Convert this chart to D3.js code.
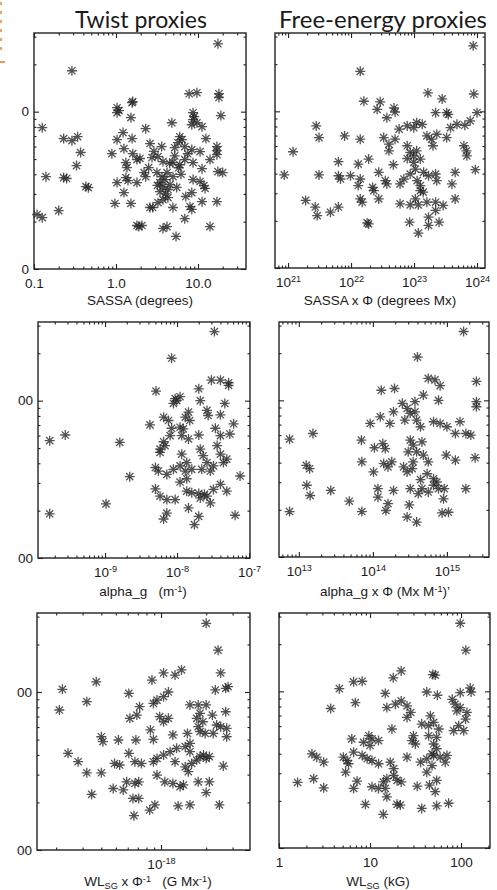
<!DOCTYPE html>
<html>
<head>
<meta charset="utf-8">
<script src="https://cdn.jsdelivr.net/npm/d3@7/dist/d3.min.js"></script>
<style>
  body { margin: 0; background: #fff; }
  text { font-family: "Liberation Sans", Arial, sans-serif; fill: #1a1a1a; }
</style>
</head>
<body>
<svg id="chart" width="497" height="890"></svg>
<script>
/* global d3 */

// column headers
const headers = ['Twist proxies', 'Free-energy proxies'];

// y ticks shared by all panels (left column labels are clipped by the page edge)
const yMajor = [100, 1000];

// x tick labels per panel
const sassaTicks = [0.1, 1, 10];
const sassaFluxTicks = [1e21, 1e22, 1e23, 1e24];
const alphaTicks = [1e-9, 1e-8, 1e-7];
const alphaFluxTicks = [1e13, 1e14, 1e15];
const wlsgPhiTicks = [1e-18];
const wlsgTicks = [1, 10, 100];

// points: [x, y]
const sassaPts = [
  [17.5,2700],[0.29,1820],[7.8,1300],[9.7,1320],[18,1300],[18,1230],[1.57,1140],[1.6,1160],[1.03,1060],[1.09,1015],[1.03,985],
  [8.7,985],[9.0,930],[8.7,890],[9.7,850],[8.4,826],[11.2,803],[19,944],[0.126,791],[1.52,916],[4.8,850],[2.3,780],[1.22,736],
  [0.34,693],[0.23,674],[0.29,654],[1.03,664],[1.57,674],[6.0,693],[5.7,635],[6.4,664],[6.9,600],[2.6,627],[12.5,674],[3.6,600],
  [17,600],[17,565],[17,533],[8.4,574],[10.6,557],[5.2,590],[1.25,582],[0.37,550],[0.89,541],[1.6,541],[1.96,504],[3.25,518],[3.74,482],
  [5.2,524],[6.9,496],[4.95,474],[6.0,460],[0.33,454],[1.32,474],[1.36,441],[8.7,474],[11.2,434],[14,496],[1.8,496],[2.75,511],[2.5,441],
  [0.14,386],[0.23,381],[0.25,376],[1.03,354],[1.32,381],[1.4,365],[2.2,410],[2.3,386],[3.16,410],[1.8,354],
  [3.44,354],[3.96,370],[3.74,334],[4.3,320],[3.44,310],[4.56,344],[4.95,386],[4.19,410],[3.64,386],
  [8.7,370],[10.6,360],[11.8,339],[12.2,325],[17.5,416],[20,410],[0.43,334],[0.46,329],[1.25,306],[0.97,261],[1.52,261],[7.1,289],[8.4,306],
  [11.2,268],[17,268],[2.6,246],[2.8,246],[3.25,264],[3.74,276],[4.3,284],[4.95,246],[8.0,249],[8.4,239],[6.9,209],[0.109,222],[0.126,212],
  [0.2,235],[1.8,189],[2.07,189],[1.9,186],[14,186],[3.74,181],[4.19,186],[5.4,161],
  [5.5,330],[4.0,300],[3.2,340],[6.2,400],[5.8,440],[4.5,470],[2.9,560],[7.5,540]
];

const sassaFluxPts = [
  [8.7e23,2620],[1.4e22,1800],[1.66e23,1310],[2.8e23,1200],[8.9e23,1290],[1.6e22,1160],[2.9e22,1150],[2.6e22,1030],[4.8e22,1050],[5.0e22,990],[3.7e22,910],
  [2.2e23,980],[3.3e23,980],[3.5e23,955],[1e24,980],[7.8e23,870],[6.4e23,815],[2.8e21,807],[3.1e21,680],[7.9e21,697],[1.4e22,664],
  [5.8e22,770],[7.8e22,807],[1.1e23,847],[1.35e23,826],[9.9e22,787],[3.8e23,787],[4.8e23,826],
  [3.3e22,680],[4e22,617],[4e22,560],[5e22,664],[1.6e23,697],[1.9e23,664],[2.3e23,714],[2.0e23,603],[3.3e23,680],
  [7.8e22,603],[8.7e22,547],[9.9e22,520],[7.8e22,500],[1.1e23,560],[1.26e23,496],[9.9e22,472],
  [6.2e23,603],[6.8e23,560],[6.9e23,520],[1.2e21,552],[6.3e21,477],[1.3e22,460],[1.9e22,496],[4.7e22,456],
  [8.7e20,393],[3.1e21,393],[6.3e21,388],[6.8e21,370],[9.8e21,388],[1.4e22,370],[1.3e22,336],
  [2.75e22,408],[3.5e22,361],[3.7e22,344],[6e22,344],[6.9e22,370],[8.7e22,398],[1.12e23,361],[1.26e23,336],[1.42e23,408],[1.7e23,388],[1.05e23,428],
  [2.2e23,398],[2.3e23,361],[4e23,344],[4.5e23,408],[9.4e23,424],[2.2e22,327],[2.3e22,312],
  [1.26e23,312],[1.4e23,305],[1.05e23,276],[1.6e23,263],[1.9e21,270],[2.7e21,245],[2.9e21,216],[4.7e21,227],[6.3e21,245],
  [1.4e22,276],[1.5e22,263],[2.75e22,276],[6e22,257],[8.7e22,253],[1.17e23,253],[2.2e23,263],[2.9e23,251],[4.5e23,276],
  [2.2e23,233],[1.7e23,211],[1.7e23,187],[2.5e23,196],[1.8e22,194],[1.9e22,191],[8.5e22,196],[1.17e23,167]
];

const alphaPts = [
  [3.3e-8,2750],[8.4e-9,1860],[3.0e-8,1350],[4.0e-8,1350],[5.2e-8,1300],[5.2e-8,1250],[2.0e-8,1190],[5.1e-9,1150],
  [9.4e-9,1030],[1.1e-8,1060],[8.9e-9,960],[9.9e-9,1000],[2.1e-8,1000],[4.6e-8,960],[6.5e-9,785],[7.6e-9,748],[4.2e-9,702],
  [1.44e-8,845],[1.3e-8,785],[1.5e-8,748],[2.6e-8,867],[2.7e-8,805],[4e-8,813],[6.1e-8,713],
  [8.4e-9,668],[1.1e-8,678],[1.22e-8,662],[3.4e-8,668],[5.4e-8,614],[4.0e-8,600],[2.0e-8,605],
  [1.7e-10,557],[2.8e-10,605],[1.6e-9,543],[6.5e-9,548],[5.8e-9,492],[5.8e-9,469],[6.8e-9,518],
  [1.16e-8,457],[1.36e-8,404],[1.6e-8,366],[1.3e-8,357],[1.1e-8,385],[2.1e-8,492],[2.3e-8,447],[2.6e-8,404],
  [3.6e-8,518],[4e-8,457],[4.4e-8,404],[4.9e-8,425],[5e-9,376],[5.5e-9,357],[7.2e-9,340],[8.9e-9,366],[2.2e-9,329],
  [1.1e-8,304],[1.36e-8,319],[2.2e-8,366],[2.9e-8,357],[3.2e-8,385],[7.5e-8,332],[4e-8,294],[4.9e-8,266],[3.2e-8,273],
  [5e-9,275],[5.8e-9,247],[7.2e-9,235],[9.4e-9,235],[2e-8,257],[2.6e-8,247],[2.1e-8,241],[2.4e-8,254],[1.36e-8,266],[1.6e-8,260],
  [2.9e-8,224],[1.03e-9,221],[1.7e-10,191],[6.4e-8,187],[1.44e-8,208],[6.5e-9,177],[7.2e-9,193],[2e-8,184],[1.74e-8,163],
  [1.16e-8,600],[1.44e-8,571],[8e-9,600]
];

const alphaFluxPts = [
  [1.68e15,2750],[4.0e14,1890],[5.6e14,1380],[6.9e14,1350],[8.1e14,1240],[2.5e15,1320],[1.3e14,1160],[1.96e14,1190],
  [4.8e14,1080],[3.7e14,980],[2.9e14,889],[2.5e14,957],[7.7e14,1000],[2.5e15,980],[2.5e15,910],[1.26e14,785],[9.2e13,712],
  [1.7e14,712],[1.9e14,845],[2.7e14,748],[3.2e14,826],[3.7e14,845],[3.9e14,748],[4.4e14,678],[6.6e14,730],[8.1e14,712],[1.0e15,678],
  [1.5e15,730],[1.3e15,614],[1.8e15,614],[2.1e15,600],[7.5e12,565],[1.55e13,614],[7e13,557],[1.05e14,498],[1.36e14,530],[1.47e14,492],
  [3.2e14,557],[3.5e14,518],[3.0e14,469],[3.9e14,469],[4.6e14,543],[4.8e14,447],[5.6e14,405],[9.8e14,447],[1.3e15,415],[2.4e15,430],
  [1.26e13,385],[1.4e13,366],[7.1e13,405],[1.02e14,349],[1.4e14,395],[1.6e14,376],[1.8e14,405],[2.6e14,376],[2.9e14,349],[3.4e14,366],[3.5e14,405],
  [6.6e14,316],[7.3e14,301],[6.6e14,287],[4.4e14,312],[5.4e14,340],[1.28e13,287],[1.42e13,247],[2.7e13,266],[4.8e13,227],[1.17e14,273],[1.17e14,241],
  [1.9e14,266],[3.2e14,273],[4.1e14,254],[4.6e14,273],[5.6e14,260],[7.7e14,273],[9.2e14,273],[9.0e14,235],[1.8e15,273],
  [1.6e14,219],[1.5e14,198],[7.5e12,195],[7.1e13,195],[3.1e14,215],[2.9e14,180],[3.9e14,167],[8.6e14,191],[1.05e15,193]
];

const wlsgPhiPts = [
  [2.0e-18,2720],[2.4e-18,1840],[1.04e-18,1320],[1.24e-18,1280],[1.37e-18,1380],[8.7e-19,1190],[2.5e-18,1320],[2.2e-19,1040],[3.7e-19,1160],[6.1e-19,980],
  [2.1e-19,769],[3.2e-19,869],[1.12e-18,1000],[1.04e-18,934],[9.4e-19,889],[8.9e-19,847],[1.56e-18,828],[2.3e-18,1030],[2.7e-18,1055],[2.8e-18,1080],
  [2.0e-18,828],[2.2e-18,714],[2.7e-18,750],[2.35e-18,618],[1.77e-18,828],[1.82e-18,733],[1.73e-18,681],[1.9e-18,648],[1.77e-18,603],
  [7.2e-19,807],[6.9e-19,714],[6.2e-19,681],[9.8e-19,698],[1.04e-18,648],[1.12e-18,681],[8.5e-19,575],[1.2e-18,535],
  [1.5e-18,547],[1.56e-18,473],[1.45e-18,451],[1.56e-18,419],[4.0e-19,521],[4.1e-19,485],[5.2e-19,497],[6.8e-19,497],[8.9e-19,501],
  [1.82e-18,561],[1.97e-18,547],[2.23e-18,547],[2.5e-18,603],[2.74e-18,521],[2.74e-18,589],[6.1e-19,409],[2.4e-19,409],[2.8e-19,362],
  [4.9e-19,353],[5.3e-19,345],[6.7e-19,362],[7.4e-19,353],[8.9e-19,362],[9.4e-19,380],[1.04e-18,399],[1.15e-18,419],[1.27e-18,440],[1.24e-18,362],
  [1.45e-18,336],[1.52e-18,313],[1.6e-18,353],[1.73e-18,371],[1.82e-18,390],[1.92e-18,399],[2.0e-18,380],[2.1e-18,390],[2.6e-18,340],
  [3.2e-19,308],[4.0e-19,308],[4.8e-19,245],[5.6e-19,240],[5.9e-19,270],[6.7e-19,264],[7.1e-19,270],
  [9.4e-19,298],[1.06e-18,270],[1.2e-18,264],[1.34e-18,252],[1.41e-18,258],[1.77e-18,270],[2.1e-18,270],[2.0e-18,231],[3.45e-19,225],
  [6.5e-19,212],[7.1e-19,212],[8.4e-19,179],[9.1e-19,193],[1.3e-18,190],[1.56e-18,193],[2.45e-18,193],[6.6e-19,165]
];

const wlsgPts = [
  [98,2720],[113,1830],[22,1350],[18,1220],[49,1280],[52,1270],[6.6,1150],[8.2,1160],[4.6,1040],[14.7,970],[42,990],[55,944],
  [98,980],[126,1050],[129,990],[6.9,847],[3.7,777],[15.3,788],[19,828],[22,869],[25.5,807],[28,733],[25.5,681],
  [80,889],[86,828],[98,788],[90,751],[116,733],[112,665],[46,698],[50,634],[44,604],[57,575],[37,618],[17.4,575],
  [83,561],[107,561],[94,604],[30,521],[31.5,461],[29,485],[6.3,497],[8.5,473],[9.7,521],[10.5,497],[12.4,485],[10,451],
  [44,521],[54,509],[50,461],[54,430],[48,399],[2.3,399],[2.6,380],[3.1,353],[5.1,380],[5.6,362],[5.8,345],[6.6,409],
  [8.2,390],[9.3,371],[10.5,362],[12.4,345],[16.7,353],[18.2,321],[25.5,380],[36,353],[42,371],[50,390],[59,380],[70,390],[67,353],
  [5.4,305],[42,305],[48,336],[2.4,277],[1.6,262],[3.1,242],[7.2,267],[6.6,240],[10.5,246],[12.4,240],
  [14,264],[15.3,277],[18.2,291],[19.8,270],[22,264],[14.7,240],[15.3,212],[33,248],[45,252],[54,270],[52,229],
  [8.9,190],[19.8,190],[21.5,188],[14,164],[37,179],[54,186],[73,193]
];

const svg = d3.select('#chart');

const fixed = d => d.toFixed(1);
const plain = d => String(d);
const power = 'pow';

// box = [left, top, right, bottom]
const panels = [
  { pts: sassaPts, box: [34, 33, 246, 269], xdom: [0.1, 38.5], ticks: sassaTicks, fmt: fixed, ylab: 1,
    title: [['SASSA (degrees)']], tx: 140, ty: 305 },
  { pts: sassaFluxPts, box: [275, 33, 485, 268], xdom: [6.2e20, 1.34e24], ticks: sassaFluxTicks, fmt: power, ylab: 0,
    title: [['SASSA x \u03A6 (degrees Mx)']], tx: 380, ty: 305 },
  { pts: alphaPts, box: [38, 322, 250, 558], xdom: [1.17e-10, 1.03e-7], ticks: alphaTicks, fmt: power, ylab: 2,
    title: [['alpha_g   (m'], ['-1', 'sup'], [')']], tx: 143, ty: 596 },
  { pts: alphaFluxPts, box: [279, 322, 489, 557], xdom: [5.4e12, 3.7e15], ticks: alphaFluxTicks, fmt: power, ylab: 0,
    title: [['alpha_g x \u03A6 (Mx M'], ['-1', 'sup'], [')\u2019']], tx: 385, ty: 596 },
  { pts: wlsgPhiPts, box: [37, 613, 250, 850], xdom: [1.49e-19, 3.92e-18], ticks: wlsgPhiTicks, fmt: power, ylab: 2,
    title: [['WL'], ['SG', 'sub'], [' x \u03A6'], ['-1', 'sup'], ['   (G Mx'], ['-1', 'sup'], [')']], tx: 148, ty: 886 },
  { pts: wlsgPts, box: [279, 613, 490, 848], xdom: [1, 208], ticks: wlsgTicks, fmt: plain, ylab: 0,
    title: [['WL'], ['SG', 'sub'], [' (kG)']], tx: 378, ty: 886 }
];

const isDecade = v => Math.abs(Math.log10(v) - Math.round(Math.log10(v))) < 1e-6;

// asterisk symbol like IDL psym=2
const r = 5, q = r * 0.72;
const star = `M${-r},0H${r}M0,${-r}V${r}M${-q},${-q}L${q},${q}M${-q},${q}L${q},${-q}`;

function superLabel(sel, d) {
  const e = Math.round(Math.log10(d));
  sel.text(null);
  sel.append('tspan').text('10');
  sel.append('tspan').attr('dy', '-0.5em').attr('font-size', '68%').text(e);
}

const shift = { sup: 0.4, sub: -0.3 };

panels.forEach(p => {
  const [x0, y0, x1, y1] = p.box;
  const x = d3.scaleLog().domain(p.xdom).range([x0, x1]);
  const y = d3.scaleLog().domain([100, Math.pow(10, 3.5)]).range([y1, y0]);

  const xMinor = x.ticks().filter(v => !isDecade(v));
  const yMinor = y.ticks().filter(v => !isDecade(v));
  const xMajor = x.ticks().filter(isDecade);

  const g = svg.append('g');

  // points
  g.append('g').selectAll('path').data(p.pts).enter().append('path')
    .attr('d', star)
    .attr('transform', d => `translate(${x(d[0])},${y(d[1])})`)
    .attr('fill', 'none')
    .attr('stroke', '#222')
    .attr('stroke-width', 1.3)
    .attr('stroke-opacity', 0.78);

  // ticks on all four sides, pointing inward
  const axes = [[d3.axisBottom(x), y1], [d3.axisTop(x), y0]];
  axes.forEach(([ax, pos], i) => {
    const major = g.append('g').attr('transform', `translate(0,${pos})`)
      .call(ax.tickValues(i === 0 ? p.ticks : xMajor).tickSize(-5).tickPadding(9)
        .tickFormat(i === 0 && p.fmt !== power ? p.fmt : () => ''));
    if (i === 0 && p.fmt === power) {
      major.selectAll('.tick text').each(function(d) { superLabel(d3.select(this), d); });
    }
    g.append('g').attr('transform', `translate(0,${pos})`)
      .call(ax.tickValues(xMinor).tickSize(-2.5).tickFormat(() => ''));
  });

  const yAxes = [[d3.axisLeft(y), x0], [d3.axisRight(y), x1]];
  yAxes.forEach(([ax, pos], i) => {
    const fmt = i === 0 && p.ylab ? d => String(d).slice(-p.ylab) : () => '';
    g.append('g').attr('transform', `translate(${pos},0)`)
      .call(ax.tickValues(yMajor).tickSize(-5).tickPadding(5).tickFormat(fmt));
    g.append('g').attr('transform', `translate(${pos},0)`)
      .call(ax.tickValues(yMinor).tickSize(-2.5).tickFormat(() => ''));
  });

  g.selectAll('.domain').remove();
  g.selectAll('.tick line').attr('stroke', '#222').attr('stroke-width', 1.1);
  g.selectAll('.tick text').attr('font-size', 13.5).attr('fill', '#1a1a1a')
    .style('font-family', '"Liberation Sans", Arial, sans-serif');

  // frame
  g.append('rect')
    .attr('x', x0).attr('y', y0)
    .attr('width', x1 - x0).attr('height', y1 - y0)
    .attr('fill', 'none').attr('stroke', '#222').attr('stroke-width', 1.4);

  // axis title, raised / lowered pieces go back to the baseline afterwards
  const t = g.append('text')
    .attr('x', p.tx).attr('y', p.ty)
    .attr('text-anchor', 'middle')
    .attr('font-size', 13.5)
    .style('white-space', 'pre');
  let prev = null;
  p.title.forEach(([s, mode]) => {
    const ts = t.append('tspan').text(s);
    if (mode) {
      ts.attr('dy', `${-shift[mode]}em`).attr('font-size', '68%');
    } else if (prev) {
      ts.attr('dy', `${shift[prev] * 0.68}em`);
    }
    prev = mode || null;
  });
});

// column headers, sized to the reference widths
const headerPos = [[141, 28, 132], [383, 28, 208]];
headers.forEach((h, i) => {
  const [cx, by, w] = headerPos[i];
  const t = svg.append('text')
    .attr('x', cx).attr('y', by)
    .attr('text-anchor', 'middle')
    .style('font-family', 'Lato, "Open Sans", sans-serif')
    .attr('font-size', 20)
    .attr('fill', '#111')
    .text(h);
  const len = t.node().getComputedTextLength();
  t.attr('font-size', 20 * w / len);
});

// orange fragment cut by the left edge
svg.append('line').attr('x1', 1).attr('x2', 1).attr('y1', 2).attr('y2', 56)
  .attr('stroke', '#e08a3a').attr('stroke-width', 1.5).attr('stroke-dasharray', '3,6');
svg.append('line').attr('x1', 0).attr('x2', 5).attr('y1', 62).attr('y2', 62)
  .attr('stroke', '#d9772a').attr('stroke-width', 1.5);
</script>
</body>
</html>
